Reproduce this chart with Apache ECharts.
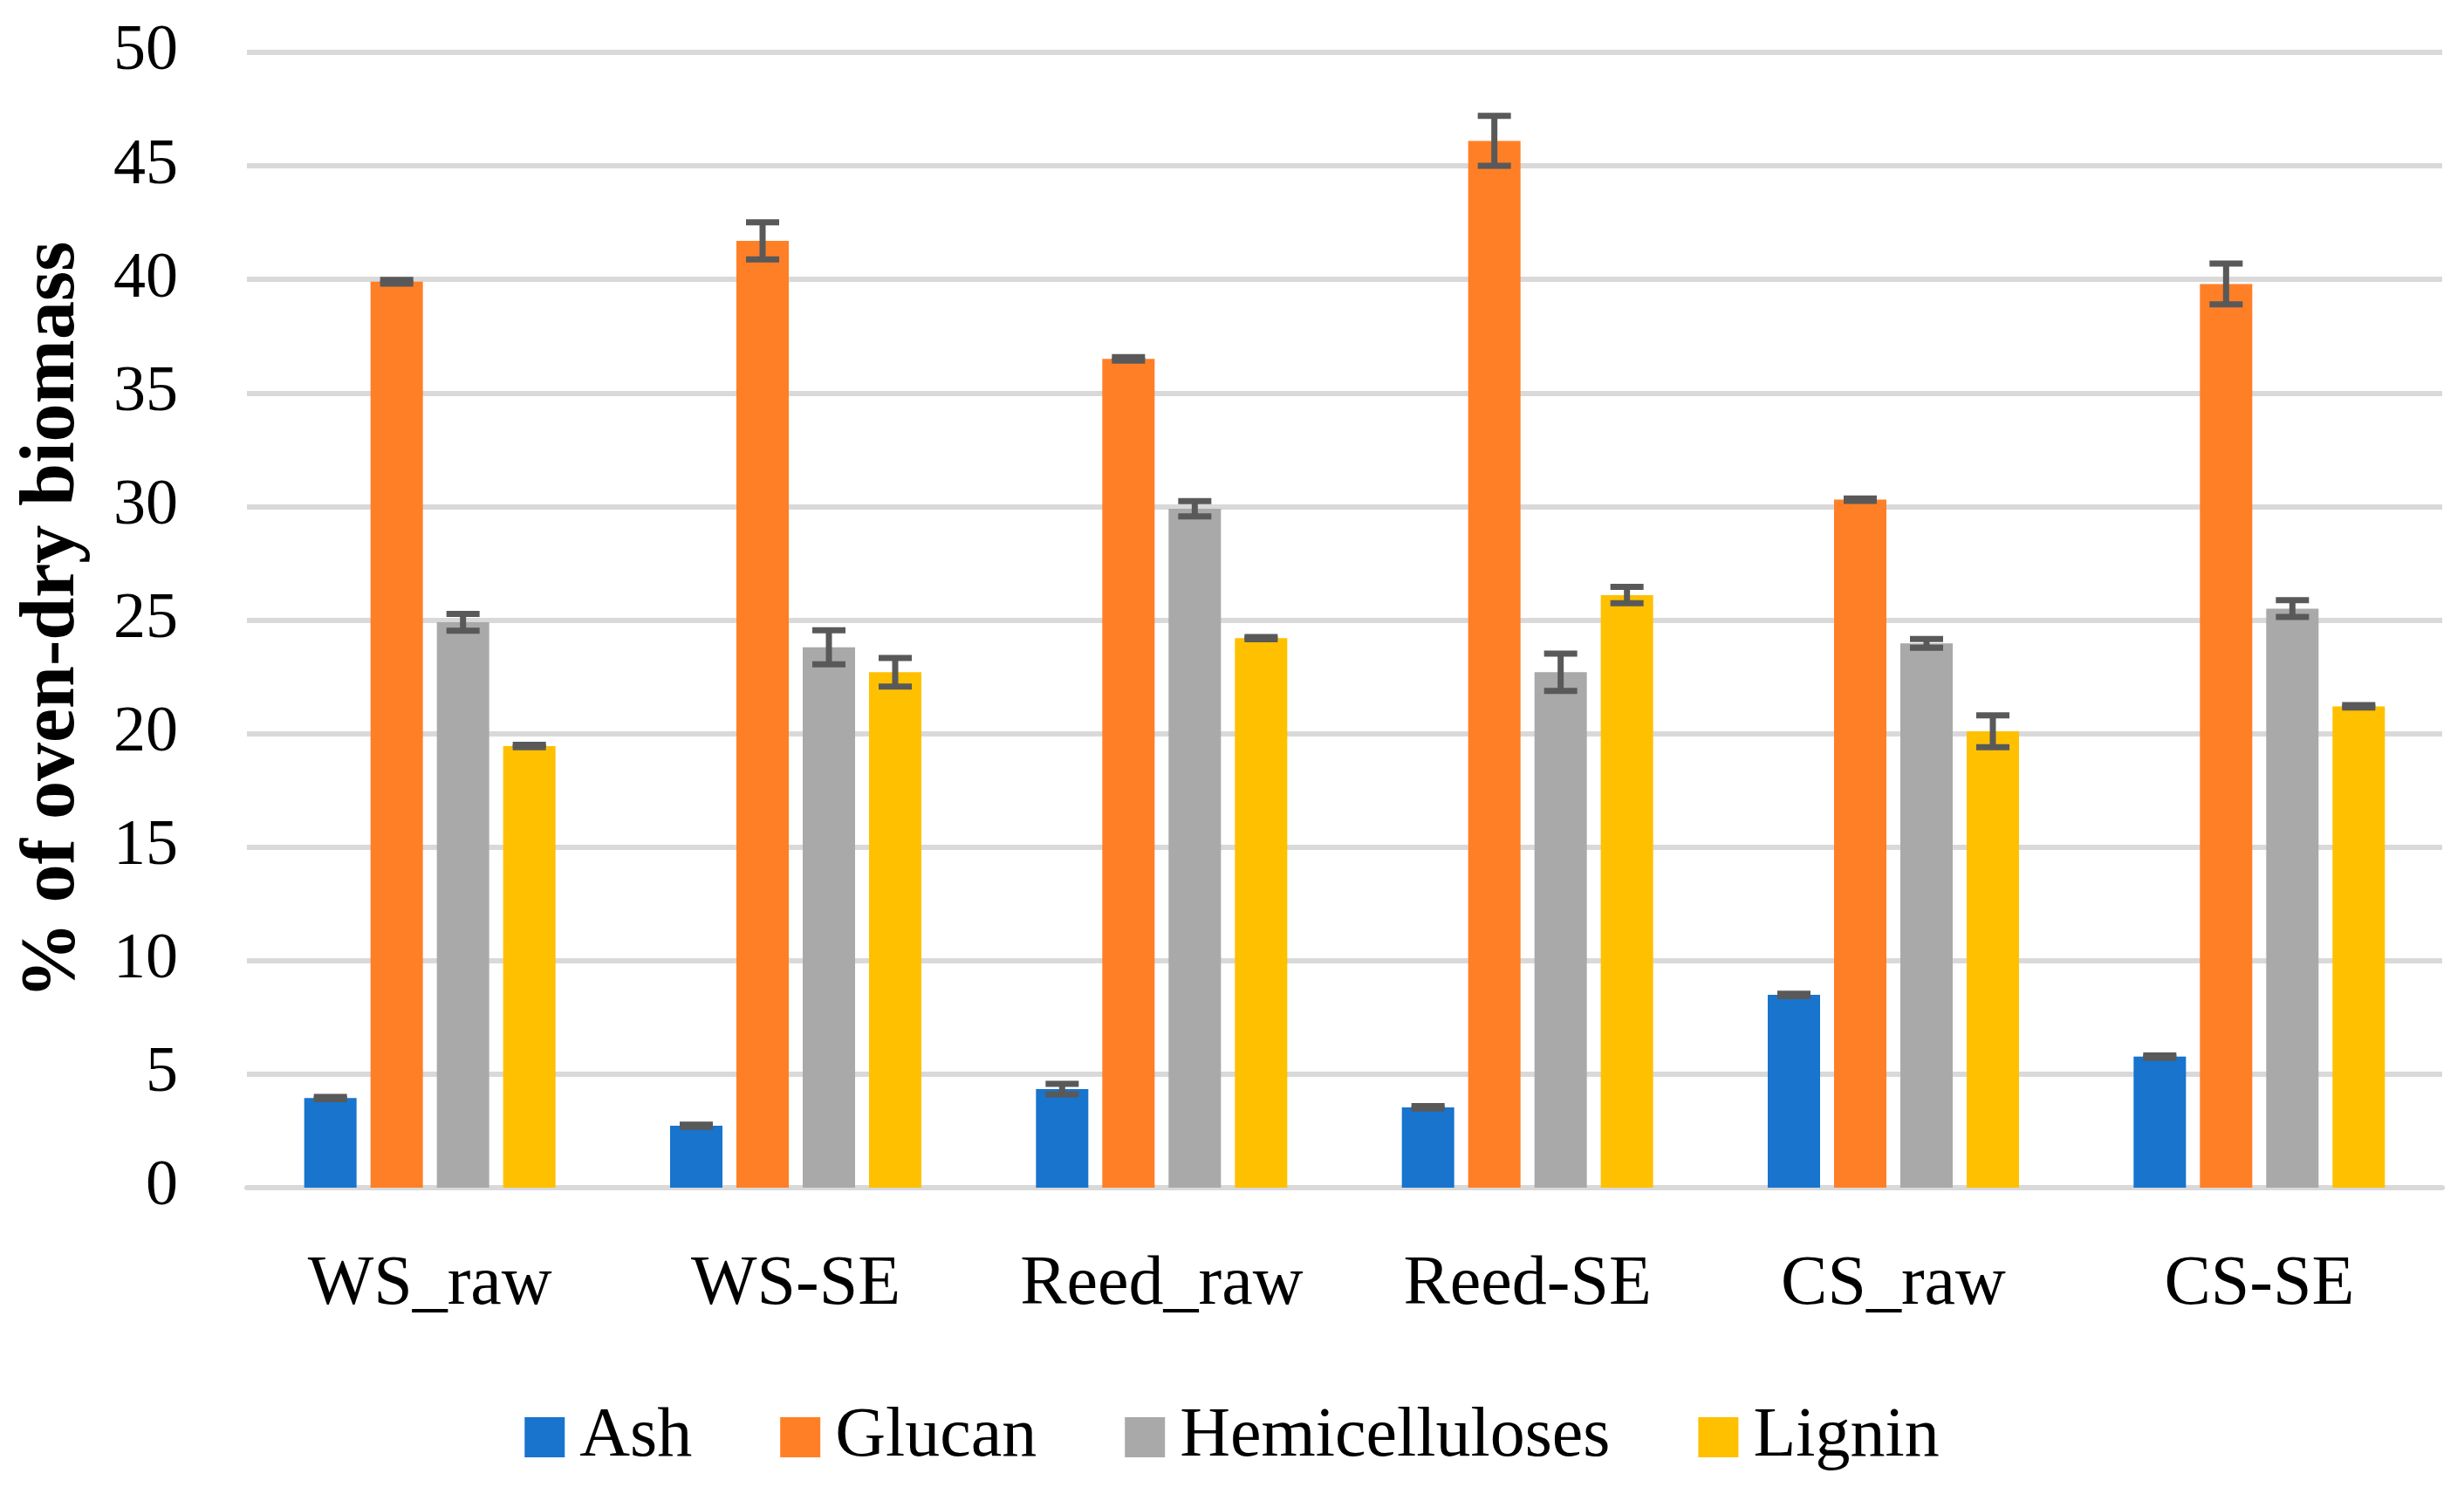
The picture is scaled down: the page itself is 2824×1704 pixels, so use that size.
<!DOCTYPE html>
<html>
<head>
<meta charset="utf-8">
<script src="https://cdn.jsdelivr.net/npm/echarts@6/dist/echarts.min.js"></script>
<style>
html,body{margin:0;padding:0;background:#fff;}
#chart{width:2824px;height:1704px;}
</style>
</head>
<body>
<div id="chart"></div>
<script>
var categories = ['WS_raw', 'WS-SE', 'Reed_raw', 'Reed-SE', 'CS_raw', 'CS-SE'];
var seriesNames = ['Ash', 'Glucan', 'Hemicelluloses', 'Lignin'];
var ash = [3.95, 2.73, 4.34, 3.54, 8.49, 5.77];
var glucan = [39.9, 41.7, 36.5, 46.1, 30.3, 39.8];
var hemicelluloses = [24.9, 23.8, 29.9, 22.7, 23.97, 25.5];
var lignin = [19.45, 22.7, 24.2, 26.1, 20.1, 21.2];
var ashErr = [0.05, 0.05, 0.23, 0.05, 0.05, 0.05];
var glucanErr = [0.08, 0.82, 0.08, 1.1, 0.05, 0.9];
var hemicellulosesErr = [0.37, 0.75, 0.34, 0.82, 0.19, 0.37];
var ligninErr = [0.05, 0.63, 0.05, 0.36, 0.7, 0.05];
var yTicks = [0, 5, 10, 15, 20, 25, 30, 35, 40, 45, 50];

var colors = ['#1874CD', '#FF7F27', '#A9A9A9', '#FFC000'];
var values = [ash, glucan, hemicelluloses, lignin];
var errs = [ashErr, glucanErr, hemicellulosesErr, ligninErr];
var BAR_W = 60, BAR_GAP = 16;
var FONT = '"Liberation Serif", "DejaVu Serif", serif';

var chart = echarts.init(document.getElementById('chart'));
var series = [];
seriesNames.forEach(function (name, i) {
  series.push({
    name: name, type: 'bar', data: values[i], barWidth: BAR_W,
    barGap: (BAR_GAP / BAR_W * 100) + '%',
    itemStyle: {color: colors[i]}, z: 2
  });
});
seriesNames.forEach(function (name, i) {
  var offset = (i - (seriesNames.length - 1) / 2) * (BAR_W + BAR_GAP);
  series.push({
    type: 'custom', name: name + ' err', z: 5,
    data: values[i].map(function (v, k) { return [k, v, errs[i][k]]; }),
    renderItem: function (params, api) {
      var k = api.value(0), v = api.value(1), e = api.value(2);
      var hi = api.coord([k, v + e]);
      var lo = api.coord([k, v - e]);
      var x = hi[0] + offset;
      var cap = 19;
      var st = {stroke: '#595959', lineWidth: 7};
      return {type: 'group', children: [
        {type: 'line', shape: {x1: x, y1: hi[1], x2: x, y2: lo[1]}, style: st},
        {type: 'line', shape: {x1: x - cap, y1: hi[1], x2: x + cap, y2: hi[1]}, style: st},
        {type: 'line', shape: {x1: x - cap, y1: lo[1], x2: x + cap, y2: lo[1]}, style: st}
      ]};
    },
    encode: {x: 0, y: 1}, silent: true
  });
});

chart.setOption({
  backgroundColor: '#fff',
  animation: false,
  color: colors,
  grid: {left: 283, right: 25, top: 60, bottom: 343, containLabel: false},
  legend: {
    data: seriesNames, bottom: 12, left: 'center', icon: 'rect',
    itemWidth: 46, itemHeight: 46, itemGap: 101,
    textStyle: {fontFamily: FONT, fontSize: 80, color: '#000', padding: [0, 0, 0, 12]}
  },
  xAxis: {
    type: 'category', data: categories,
    axisLine: {show: true, lineStyle: {color: '#d9d9d9', width: 6}},
    axisTick: {show: false},
    axisLabel: {fontFamily: FONT, fontSize: 80, color: '#000', margin: 72, interval: 0}
  },
  yAxis: {
    type: 'value', min: yTicks[0], max: yTicks[yTicks.length - 1], interval: 5,
    name: '% of oven-dry biomass', nameLocation: 'middle', nameGap: 178,
    nameTextStyle: {fontFamily: FONT, fontSize: 88, fontWeight: 'bold', color: '#000'},
    axisLine: {show: false}, axisTick: {show: false},
    axisLabel: {fontFamily: FONT, fontSize: 74, color: '#000', margin: 79},
    splitLine: {lineStyle: {color: '#d9d9d9', width: 6}}
  },
  series: series
});
</script>
</body>
</html>
